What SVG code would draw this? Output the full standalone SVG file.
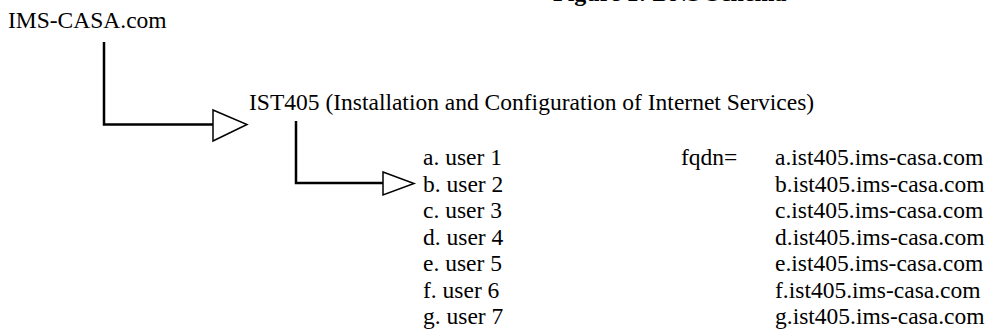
<svg xmlns="http://www.w3.org/2000/svg" width="990" height="335" viewBox="0 0 990 335" font-family="'Liberation Serif', 'Times New Roman', Times, serif">
<style>
text{font-family:'Liberation Serif','Times New Roman',Times,serif;font-size:23.5px;fill:#000}
.title{font-weight:bold;font-size:24px}
.ln{fill:none;stroke:#000;stroke-width:2.5}
.tri{fill:#fff;stroke:#000;stroke-width:1.5;stroke-linejoin:miter}
</style>
<rect width="990" height="335" fill="#fff"/>
<text class="title" x="553" y="1">Figure 1: DNS Schema</text>
<g id="connectors">
<polyline class="ln" points="104,42 104,124.5 214,124.5"/>
<polygon class="tri" points="213,110 247,124.5 213,141"/>
<polyline class="ln" points="296,121 296,183 384,183"/>
<polygon class="tri" points="383,172 414,183.5 383,195"/>
</g>
<g id="root"><text x="8" y="28">IMS-CASA.com</text></g>
<g id="ist405"><text x="249" y="110">IST405 (Installation and Configuration of Internet Services)</text></g>
<g id="users">
<text x="423" y="165">a. user 1</text>
<text x="423" y="191.5">b. user 2</text>
<text x="423" y="218">c. user 3</text>
<text x="423" y="244.5">d. user 4</text>
<text x="423" y="271">e. user 5</text>
<text x="423" y="297.5">f. user 6</text>
<text x="423" y="324">g. user 7</text>
</g>
<g id="fqdn">
<text x="681" y="165">fqdn=</text>
<text x="775" y="165">a.ist405.ims-casa.com</text>
<text x="775" y="191.5">b.ist405.ims-casa.com</text>
<text x="775" y="218">c.ist405.ims-casa.com</text>
<text x="775" y="244.5">d.ist405.ims-casa.com</text>
<text x="775" y="271">e.ist405.ims-casa.com</text>
<text x="775" y="297.5">f.ist405.ims-casa.com</text>
<text x="775" y="324">g.ist405.ims-casa.com</text>
</g>
</svg>
